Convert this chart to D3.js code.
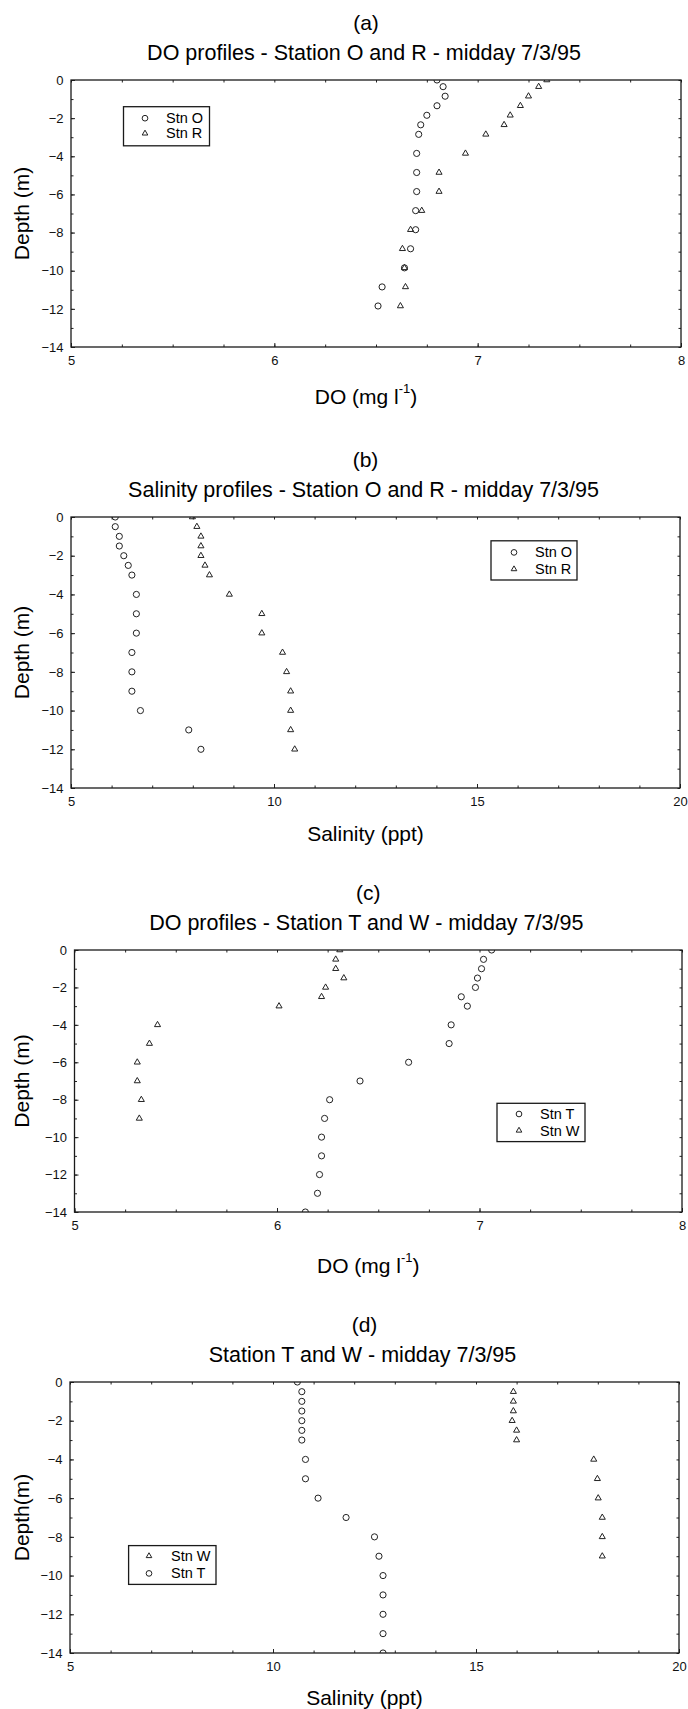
<!DOCTYPE html>
<html>
<head>
<meta charset="utf-8">
<script src="https://cdn.jsdelivr.net/npm/d3@7"></script>
<style>
  body { margin: 0; background: #fff; }
  svg { display: block; font-family: "Liberation Sans", Arial, sans-serif; }
  .tick text { font-size: 13px; fill: #111; }
  .tick line { stroke: #222; }
  .frame { fill: none; stroke: #1a1a1a; stroke-width: 1.3; }
  .mark { fill: none; stroke: #222; stroke-width: 1; }
  .legend-box { fill: #fff; stroke: #1a1a1a; stroke-width: 1.3; }
</style>
</head>
<body>
<div id="chart"></div>
<script>
// (a) DO, stations O and R
const depthA = [0, -0.35, -0.85, -1.35, -1.85, -2.35, -2.85, -3.85, -4.85, -5.85, -6.85, -7.85, -8.85, -9.85, -10.85, -11.85];
const doStnO = [6.80, 6.83, 6.84, 6.80, 6.75, 6.72, 6.71, 6.70, 6.70, 6.70, 6.695, 6.695, 6.67, 6.64, 6.53, 6.51];
const doStnR = [7.34, 7.30, 7.25, 7.21, 7.16, 7.13, 7.04, 6.94, 6.81, 6.81, 6.725, 6.67, 6.63, 6.64, 6.645, 6.62];

// (b) salinity, stations O and R
const depthB = [0, -0.5, -1, -1.5, -2, -2.5, -3, -4, -5, -6, -7, -8, -9, -10, -11, -12];
const salStnO = [6.09, 6.09, 6.19, 6.19, 6.30, 6.41, 6.50, 6.61, 6.61, 6.61, 6.50, 6.50, 6.50, 6.71, 7.90, 8.20];
const salStnR = [7.99, 8.10, 8.20, 8.20, 8.20, 8.30, 8.41, 8.90, 9.70, 9.70, 10.21, 10.31, 10.41, 10.41, 10.41, 10.51];

// (c) DO, stations T and W
const depthT = [0, -0.5, -1, -1.5, -2, -2.5, -3, -4, -5, -6, -7, -8, -9, -10, -11, -12, -13, -14];
const doStnT = [7.06, 7.02, 7.01, 6.99, 6.98, 6.91, 6.94, 6.86, 6.85, 6.65, 6.41, 6.26, 6.235, 6.22, 6.22, 6.21, 6.20, 6.14];
const depthW = [0, -0.5, -1, -1.5, -2, -2.5, -3, -4, -5, -6, -7, -8, -9];
const doStnW = [6.31, 6.29, 6.29, 6.33, 6.24, 6.22, 6.01, 5.41, 5.37, 5.31, 5.31, 5.33, 5.32];

// (d) salinity, stations T and W
const depthTd = [0, -0.5, -1, -1.5, -2, -2.5, -3, -4, -5, -6, -7, -8, -9, -10, -11, -12, -13, -14];
const salStnT = [10.60, 10.71, 10.71, 10.71, 10.71, 10.71, 10.71, 10.80, 10.80, 11.11, 11.80, 12.50, 12.61, 12.71, 12.71, 12.71, 12.71, 12.71];
const depthWd = [-0.5, -1, -1.5, -2, -2.5, -3, -4, -5, -6, -7, -8, -9];
const salStnW = [15.92, 15.92, 15.92, 15.89, 16.00, 16.00, 17.90, 17.99, 18.01, 18.11, 18.11, 18.11];

// axis ticks
const depthMajor = [0, -2, -4, -6, -8, -10, -12, -14];
const depthMinor = d3.range(0, -15, -1);
const doMajor = [5, 6, 7, 8];
const doMinor = d3.range(5, 8.01, 0.25);
const salMajor = [5, 10, 15, 20];
const salMinor = d3.range(5, 20.5, 1);

const zip = (xs, ys) => xs.map((x, i) => ({ x: x, y: ys[i] }));

const panels = [
  {
    tag: "(a)", title: "DO profiles - Station O and R - midday 7/3/95",
    xlabel: "DO", ylabel: "Depth (m)",
    left: 71, right: 681, top: 80, bottom: 347, xlabelY: 396,
    xDomain: [5, 8], xMajor: doMajor, xMinor: doMinor,
    series: [
      { name: "Stn O", shape: "circle", data: zip(doStnO, depthA) },
      { name: "Stn R", shape: "triangle", data: zip(doStnR, depthA) }
    ],
    legend: { x0: 123.5, x1: 209.5, y0: 106.7, y1: 145.8, markX: 145, textX: 166, rows: [118.2, 133.4] }
  },
  {
    tag: "(b)", title: "Salinity profiles - Station O and R - midday 7/3/95",
    xlabel: "Salinity (ppt)", ylabel: "Depth (m)",
    left: 71, right: 680, top: 517, bottom: 788, xlabelY: 833,
    xDomain: [5, 20], xMajor: salMajor, xMinor: salMinor,
    series: [
      { name: "Stn O", shape: "circle", data: zip(salStnO, depthB) },
      { name: "Stn R", shape: "triangle", data: zip(salStnR, depthB) }
    ],
    legend: { x0: 491, x1: 577, y0: 540.8, y1: 580, markX: 514, textX: 535, rows: [552.4, 569.1] }
  },
  {
    tag: "(c)", title: "DO profiles - Station T and W - midday 7/3/95",
    xlabel: "DO", ylabel: "Depth (m)",
    left: 74.5, right: 682, top: 950, bottom: 1212, xlabelY: 1265,
    xDomain: [5, 8], xMajor: doMajor, xMinor: doMinor,
    series: [
      { name: "Stn T", shape: "circle", data: zip(doStnT, depthT) },
      { name: "Stn W", shape: "triangle", data: zip(doStnW, depthW) }
    ],
    legend: { x0: 497, x1: 585, y0: 1103.3, y1: 1141.6, markX: 519, textX: 540, rows: [1114, 1130.5] }
  },
  {
    tag: "(d)", title: "Station T and W - midday 7/3/95",
    xlabel: "Salinity (ppt)", ylabel: "Depth(m)",
    left: 70, right: 679, top: 1382, bottom: 1653, xlabelY: 1697,
    xDomain: [5, 20], xMajor: salMajor, xMinor: salMinor,
    series: [
      { name: "Stn W", shape: "triangle", data: zip(salStnW, depthWd) },
      { name: "Stn T", shape: "circle", data: zip(salStnT, depthTd) }
    ],
    legend: { x0: 128.6, x1: 216, y0: 1545.6, y1: 1584.4, markX: 149, textX: 171, rows: [1556, 1573.4] }
  }
];

const svg = d3.select("#chart").append("svg")
  .attr("width", 688)
  .attr("height", 1709);

svg.append("rect").attr("width", 688).attr("height", 1709).attr("fill", "#fff");

// marker shapes: small open circles and triangles
const markPath = (shape, scale) => shape === "circle"
  ? d3.symbol(d3.symbolCircle, 30 * scale)()
  : d3.symbol(d3.symbolTriangle, 16 * scale)();

function drawPanel(p, i) {
  const g = svg.append("g").attr("class", "panel");
  const cx = (p.left + p.right) / 2 - 12;

  const x = d3.scaleLinear().domain(p.xDomain).range([p.left, p.right]);
  const y = d3.scaleLinear().domain([0, -14]).range([p.top, p.bottom]);

  // panel tag and title
  g.append("text")
    .attr("x", cx + 2).attr("y", p.top - 58)
    .attr("text-anchor", "middle").attr("dominant-baseline", "central")
    .attr("font-size", 21).text(p.tag);
  g.append("text")
    .attr("x", cx).attr("y", p.top - 27)
    .attr("text-anchor", "middle").attr("dominant-baseline", "central")
    .attr("font-size", 21.5).text(p.title);

  // minor ticks (inward, no labels)
  g.append("g").attr("transform", `translate(0,${p.bottom})`)
    .call(d3.axisBottom(x).tickValues(p.xMinor).tickSizeInner(-2.5).tickSizeOuter(0).tickFormat(""));
  g.append("g").attr("transform", `translate(0,${p.top})`)
    .call(d3.axisTop(x).tickValues(p.xMinor).tickSizeInner(-2.5).tickSizeOuter(0).tickFormat(""));
  g.append("g").attr("transform", `translate(${p.left},0)`)
    .call(d3.axisLeft(y).tickValues(depthMinor).tickSizeInner(-2.5).tickSizeOuter(0).tickFormat(""));
  g.append("g").attr("transform", `translate(${p.right},0)`)
    .call(d3.axisRight(y).tickValues(depthMinor).tickSizeInner(-2.5).tickSizeOuter(0).tickFormat(""));

  // labelled major ticks
  g.append("g").attr("class", "x-axis").attr("transform", `translate(0,${p.bottom})`)
    .call(d3.axisBottom(x).tickValues(p.xMajor).tickSizeInner(-4).tickSizeOuter(0).tickPadding(9).tickFormat(d3.format("d")));
  g.append("g").attr("class", "y-axis").attr("transform", `translate(${p.left},0)`)
    .call(d3.axisLeft(y).tickValues(depthMajor).tickSizeInner(-4).tickSizeOuter(0).tickPadding(7.5).tickFormat(d3.format("d")));

  g.selectAll(".domain").remove();
  g.selectAll(".tick text").attr("font-family", null).attr("font-size", null);

  g.append("rect").attr("class", "frame")
    .attr("x", p.left).attr("y", p.top)
    .attr("width", p.right - p.left).attr("height", p.bottom - p.top);

  // axis labels
  const xl = g.append("text")
    .attr("x", cx + 2).attr("y", p.xlabelY)
    .attr("text-anchor", "middle").attr("dominant-baseline", "central")
    .attr("font-size", 21);
  if (p.xlabel === "DO") {
    xl.append("tspan").text("DO (mg l");
    xl.append("tspan").attr("font-size", 13).attr("dy", -8).text("-1");
    xl.append("tspan").attr("dy", 8).text(")");
  } else {
    xl.text(p.xlabel);
  }
  g.append("text")
    .attr("transform", `translate(21,${(p.top + p.bottom) / 2}) rotate(-90)`)
    .attr("text-anchor", "middle").attr("dominant-baseline", "central")
    .attr("font-size", 21).text(p.ylabel);

  // markers, clipped to the plot area
  const clipId = "clip" + i;
  svg.append("clipPath").attr("id", clipId).append("rect")
    .attr("x", p.left).attr("y", p.top)
    .attr("width", p.right - p.left).attr("height", p.bottom - p.top);

  const plot = g.append("g").attr("clip-path", `url(#${clipId})`);
  p.series.forEach(s => {
    plot.selectAll(null)
      .data(s.data)
      .enter()
      .append("path")
      .attr("class", "mark")
      .attr("d", markPath(s.shape, 1))
      .attr("transform", d => `translate(${x(d.x)},${y(d.y)})`);
  });

  // legend
  const L = p.legend;
  const lg = g.append("g").attr("class", "legend");
  lg.append("rect").attr("class", "legend-box")
    .attr("x", L.x0).attr("y", L.y0)
    .attr("width", L.x1 - L.x0).attr("height", L.y1 - L.y0);
  p.series.forEach((s, k) => {
    lg.append("path").attr("class", "mark")
      .attr("d", markPath(s.shape, 0.85))
      .attr("transform", `translate(${L.markX},${L.rows[k]})`);
    lg.append("text")
      .attr("x", L.textX).attr("y", L.rows[k])
      .attr("dominant-baseline", "central")
      .attr("font-size", 14.5).text(s.name);
  });
}

panels.forEach(drawPanel);
</script>
</body>
</html>
